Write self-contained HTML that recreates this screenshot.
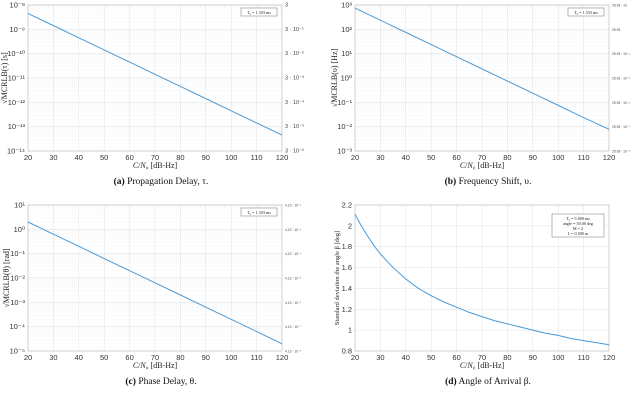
<!DOCTYPE html>
<html><head><meta charset="utf-8">
<style>
body{margin:0;background:#fff;width:640px;height:407px;overflow:hidden}
svg{display:block}
.tk{font-family:"Liberation Sans",sans-serif;font-size:7.5px;fill:#333}
.lab{font-family:"Liberation Serif",serif;fill:#222}
.cap{font-family:"Liberation Serif",serif;font-size:9.5px;fill:#111}
</style></head><body>
<svg id="fig" width="640" height="407"></svg>
<script>
const xTicks=[20,30,40,50,60,70,80,90,100,110,120];
const snrA=[20,30,40,50,60,70,80,90,100,110,120];
const tauVals=[4.5e-9,1.42e-9,4.5e-10,1.42e-10,4.5e-11,1.42e-11,4.5e-12,1.42e-12,4.5e-13,1.42e-13,4.5e-14];
const freqVals=[750,237,75,23.7,7.5,2.37,0.75,0.237,0.075,0.0237,0.0078];
const phaseVals=[2,0.632,0.2,0.0632,0.02,0.00632,0.002,0.000632,0.0002,0.0000632,0.00002];
const snrD=[20,22.5,25,27.5,30,35,40,45,50,55,60,65,70,75,80,85,90,95,100,105,110,115,120];
const aoaVals=[2.11,2.0,1.90,1.81,1.73,1.60,1.49,1.40,1.33,1.27,1.22,1.17,1.13,1.09,1.06,1.03,1.0,0.97,0.95,0.92,0.90,0.88,0.86];
const aoaTicks=[0.8,1,1.2,1.4,1.6,1.8,2,2.2];
const rightA=["3","3 · 10⁻¹","3 · 10⁻²","3 · 10⁻³","3 · 10⁻⁴","3 · 10⁻⁵","3 · 10⁻⁶"];
const rightB=["25.93 · 10","25.93","25.93 · 10⁻¹","25.93 · 10⁻²","25.93 · 10⁻³","25.93 · 10⁻⁴","25.93 · 10⁻⁵"];
const rightC=["4.13 · 10⁻²","4.13 · 10⁻³","4.13 · 10⁻⁴","4.13 · 10⁻⁵","4.13 · 10⁻⁶","4.13 · 10⁻⁷","4.13 · 10⁻⁸"];
const NS="http://www.w3.org/2000/svg";
const svg=document.getElementById('fig');
function el(t,a,p){const e=document.createElementNS(NS,t);for(const k in a)e.setAttribute(k,a[k]);(p||svg).appendChild(e);return e;}
function sup(n){return String(n).replace(/-/g,'⁻').replace(/\d/g,d=>'⁰¹²³⁴⁵⁶⁷⁸⁹'[d]);}
function panel(o){
  const g=el('g',{});
  
  
  const X0=o.x,X1=o.x+254,Y0=o.y,Y1=o.y+146;
  const sx=v=>X0+(v-20)/100*(X1-X0);
  let sy;
  if(o.log){sy=v=>Y0+(o.top-Math.log10(v))/(o.top-o.bot)*(Y1-Y0);}
  else{sy=v=>Y0+(o.top-v)/(o.top-o.bot)*(Y1-Y0);}
  if(o.log){
    for(let d=o.bot;d<o.top;d++){for(let m=2;m<10;m++){const y=sy(m*Math.pow(10,d));
      el('line',{x1:X0,x2:X1,y1:y,y2:y,stroke:'#ececec','stroke-width':0.5,'stroke-dasharray':'1,1'},g);}}
    for(let d=o.bot;d<=o.top;d++){const y=sy(Math.pow(10,d));
      el('line',{x1:X0,x2:X1,y1:y,y2:y,stroke:'#dcdcdc','stroke-width':0.5},g);
      const t=el('text',{x:X0-3,y:y+2.5,'text-anchor':'end',class:'tk'},g);t.textContent='10'+sup(d);
      
      
      if(o.right){const i=o.top-d;const r=el('text',{x:X1+3,y:y+1.5,style:'font-family:Liberation Sans,sans-serif;fill:#444;font-size:'+(o.rsmall?3.3:5.5)+'px'},g);r.textContent=o.right[i];
        
        }
    }
  } else {
    o.ticks.forEach(v=>{const y=sy(v);
      el('line',{x1:X0,x2:X1,y1:y,y2:y,stroke:'#e2e2e2','stroke-width':0.5},g);
      const t=el('text',{x:X0-3,y:y+2.5,'text-anchor':'end',class:'tk'},g);t.textContent=String(v);
      
      });
  }
  xTicks.forEach(v=>{const x=sx(v);
    el('line',{x1:x,x2:x,y1:Y0,y2:Y1,stroke:'#e2e2e2','stroke-width':0.5},g);
    const t=el('text',{x:x,y:Y1+9,'text-anchor':'middle',class:'tk'},g);t.textContent=v;
    
    });
  el('rect',{x:X0,y:Y0,width:X1-X0,height:Y1-Y0,fill:'none',stroke:'#bbb','stroke-width':0.6},g);
  const pts=o.xs.map((s,i)=>sx(s).toFixed(2)+','+sy(o.vals[i]).toFixed(2)).join(' ');
  const pl=el('polyline',{points:pts,fill:'none',stroke:'#4a9ad8','stroke-width':1},g);
  
  
  const xl=el('text',{x:(X0+X1)/2,y:Y1+17,'text-anchor':'middle',class:'lab',style:'font-size:8px'},g);
  xl.innerHTML='<tspan font-style="italic">C</tspan>/<tspan font-style="italic">N</tspan>₀ [dB-Hz]';
  
  
  const yl=el('text',{x:0,y:0,'text-anchor':'middle',class:'lab',transform:`translate(${o.ylx},${(Y0+Y1)/2}) rotate(-90)`,style:'font-size:'+(o.yfs||8)+'px'},g);
  yl.textContent=o.ylabel;
  
  
  const lb=o.legend;
  const bw=lb.w,bh=lb.lines.length*5+3;
  el('rect',{x:X1-bw-5,y:Y0+lb.dy,width:bw,height:bh,fill:'#fff',stroke:'#777','stroke-width':0.5},g);
  lb.lines.forEach((s,i)=>{const t=el('text',{x:X1-5-bw/2,y:Y0+lb.dy+6+i*5,'text-anchor':'middle',class:'lab',style:'font-size:4.2px'},g);t.textContent=s;
    
    });
  const c=el('text',{x:(X0+X1)/2+6,y:Y1+33,'text-anchor':'middle',class:'cap'},g);
  c.innerHTML='<tspan font-weight="bold">'+o.capL+'</tspan> '+o.cap;
  
  
}
panel({name:'panel-propagation-delay',x:28,y:5,log:true,top:-8,bot:-14,xs:snrA,vals:tauVals,right:rightA,ylx:7,ylabel:'√MCRLB(τ) [s]',legend:{w:36,dy:3,lines:['T₀ = 1.333 ms']},capL:'(a)',cap:'Propagation Delay, τ.'});
panel({name:'panel-frequency-shift',x:355,y:5,log:true,top:3,bot:-3,xs:snrA,vals:freqVals,right:rightB,rsmall:true,ylx:337,ylabel:'√MCRLB(υ) [Hz]',legend:{w:36,dy:3,lines:['T₀ = 1.333 ms']},capL:'(b)',cap:'Frequency Shift, υ.'});
panel({name:'panel-phase-delay',x:28,y:205,log:true,top:1,bot:-5,xs:snrA,vals:phaseVals,right:rightC,rsmall:true,ylx:9,ylabel:'√MCRLB(θ) [rad]',legend:{w:36,dy:3,lines:['T₀ = 1.333 ms']},capL:'(c)',cap:'Phase Delay, θ.'});
panel({name:'panel-angle-of-arrival',x:355,y:205,log:false,top:2.2,bot:0.8,ticks:aoaTicks,xs:snrD,vals:aoaVals,ylx:339,ylabel:'Standard deviation the angle β [deg]',yfs:6.5,legend:{w:52,dy:9,lines:['T₀ = 5.000 ms','angle = 50.00 deg','M = 2','L = 0.500 m']},capL:'(d)',cap:'Angle of Arrival β.'});
</script>
</body></html>
